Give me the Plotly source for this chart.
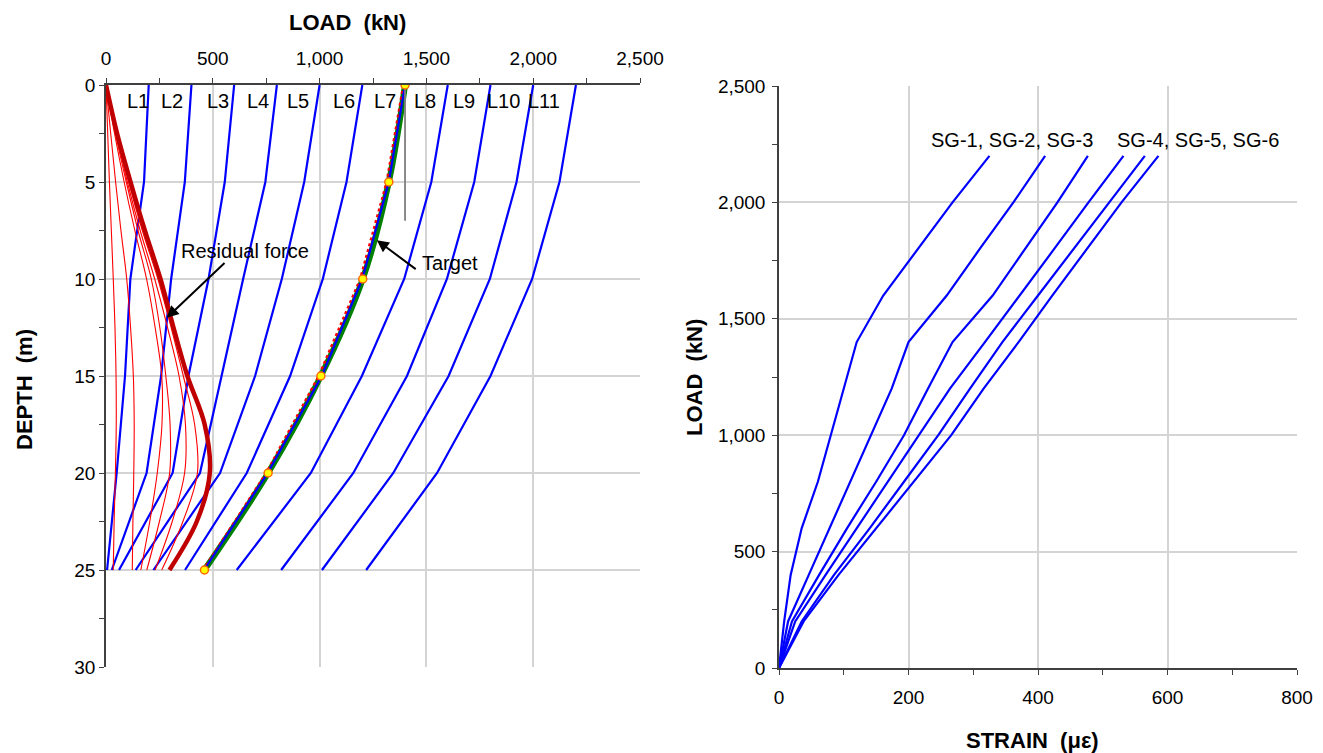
import plotly.graph_objects as go

# ---------------- data: left chart (load distribution vs depth) ----------------
depth = [0, 5, 10, 15, 20, 25]
level_names = ["L1", "L2", "L3", "L4", "L5", "L6", "L7", "L8", "L9", "L10", "L11"]
L1 = [200, 178, 114, 89, 50, 5]
L2 = [400, 369, 305, 258, 190, 27]
L3 = [600, 556, 480, 386, 312, 61]
L4 = [800, 746, 642, 542, 440, 139]
L5 = [1000, 928, 823, 698, 534, 222]
L6 = [1200, 1126, 1015, 862, 659, 370]
L7 = [1400, 1324, 1200, 1010, 757, 459]
L8 = [1600, 1523, 1396, 1198, 959, 612]
L9 = [1800, 1724, 1596, 1409, 1158, 820]
L10 = [2000, 1922, 1797, 1604, 1345, 1011]
L11 = [2200, 2123, 1995, 1800, 1550, 1218]
levels = [L1, L2, L3, L4, L5, L6, L7, L8, L9, L10, L11]

target_load = [1400, 1324, 1202, 1006, 759, 461]
fitted_load = [1392, 1314, 1190, 996, 750, 455]
ref_line_depth = [0, 7]

res_depth = [0, 2.5, 5, 7.5, 10, 12.5, 15, 17.5, 20, 22.5, 25]
R1 = [0, 8, 16, 25, 34, 42, 47, 48, 44, 38, 34]
R2 = [0, 22, 45, 70, 97, 115, 128, 132, 130, 126, 123]
R3 = [0, 40, 85, 135, 190, 230, 261, 262, 240, 205, 163]
R4 = [0, 44, 95, 150, 212, 252, 280, 300, 298, 250, 191]
R5 = [0, 47, 100, 160, 228, 288, 342, 372, 368, 310, 230]
R6 = [0, 50, 106, 170, 243, 305, 362, 415, 428, 360, 261]
residual_thin = [R1, R2, R3, R4, R5, R6]
R_final = [0, 52, 115, 182, 255, 316, 381, 462, 486, 425, 297]

# ---------------- data: right chart (load vs strain) ----------------
sg_load = [0, 200, 400, 600, 800, 1000, 1200, 1400, 1600, 1800, 2000, 2200]
SG1 = [0, 8, 18, 35, 60, 80, 100, 120, 161, 214, 268, 325]
SG2 = [0, 14, 46, 78, 111, 143, 174, 200, 259, 310, 362, 411]
SG3 = [0, 20, 62, 105, 150, 193, 230, 268, 330, 380, 430, 477]
SG4 = [0, 25, 72, 120, 168, 217, 264, 318, 372, 425, 478, 532]
SG5 = [0, 35, 85, 140, 193, 246, 295, 345, 400, 455, 510, 565]
SG6 = [0, 38, 92, 150, 208, 266, 316, 370, 422, 476, 529, 586]
sg_series = [SG1, SG2, SG3, SG4, SG5, SG6]

x_ticks_left = [0, 500, 1000, 1500, 2000, 2500]
y_ticks_left = [0, 5, 10, 15, 20, 25, 30]
x_ticks_right = [0, 200, 400, 600, 800]
y_ticks_right = [0, 500, 1000, 1500, 2000, 2500]

# ---------------- figure geometry (pixels) ----------------
W, H = 1323, 753
ML, MR, MT, MB = 106, 26, 85, 85
PW, PH = W - ML - MR, H - MT - MB
FONT = "Liberation Sans, Arial, sans-serif"
BLUE = "#0000FF"


def px(x):
    return (x - ML) / PW


def py(y):
    return (H - MB - y) / PH


fig = go.Figure()

# blue load-distribution lines (L7 drawn later, over the target curve)
for name, vals in zip(level_names, levels):
    if name == "L7":
        continue
    fig.add_trace(go.Scatter(x=vals, y=depth, mode="lines", name=name,
                             line=dict(color=BLUE, width=2.2),
                             xaxis="x", yaxis="y", showlegend=False))

# residual force curves
for vals in residual_thin:
    fig.add_trace(go.Scatter(x=vals, y=res_depth, mode="lines",
                             line=dict(color="#FF0000", width=1.1, shape="spline"),
                             xaxis="x", yaxis="y", showlegend=False))
fig.add_trace(go.Scatter(x=R_final, y=res_depth, mode="lines",
                         line=dict(color="#C00000", width=4.5, shape="spline"),
                         xaxis="x", yaxis="y", showlegend=False))

# target curve
fig.add_trace(go.Scatter(x=target_load, y=depth, mode="lines",
                         line=dict(color="#008000", width=6, shape="spline"),
                         xaxis="x", yaxis="y", showlegend=False))
fig.add_trace(go.Scatter(x=fitted_load, y=depth, mode="lines",
                         line=dict(color="#FF0000", width=2.5, dash="dot"),
                         xaxis="x", yaxis="y", showlegend=False))
fig.add_trace(go.Scatter(x=L7, y=depth, mode="lines", name="L7",
                         line=dict(color=BLUE, width=2.2),
                         xaxis="x", yaxis="y", showlegend=False))
fig.add_trace(go.Scatter(x=[target_load[0]] * 2, y=ref_line_depth, mode="lines",
                         line=dict(color="#7F7F7F", width=1.8),
                         xaxis="x", yaxis="y", showlegend=False))
fig.add_trace(go.Scatter(x=target_load, y=depth, mode="markers",
                         marker=dict(color="#FFFF00", size=8,
                                     line=dict(color="#FF6600", width=1.5)),
                         xaxis="x", yaxis="y", showlegend=False))

# strain gauge lines
for i, vals in enumerate(sg_series):
    fig.add_trace(go.Scatter(x=vals, y=sg_load, mode="lines", name=f"SG-{i+1}",
                             line=dict(color=BLUE, width=2.2),
                             xaxis="x2", yaxis="y2", showlegend=False))

axis_common = dict(
    showline=True, linecolor="#404040", linewidth=1.5,
    ticks="outside", ticklen=5, tickwidth=1.2, tickcolor="#404040",
    showgrid=True, gridcolor="#D4D4D4", gridwidth=1.5,
    zeroline=False, automargin=False,
    tickfont=dict(family=FONT, size=19, color="#000000"),
    tickformat=",",
)

fig.update_layout(
    width=W, height=H,
    margin=dict(l=ML, r=MR, t=MT, b=MB, autoexpand=False),
    paper_bgcolor="white", plot_bgcolor="white",
    font=dict(family=FONT, color="#000000"),
    showlegend=False,
    xaxis=dict(axis_common, domain=[px(106), px(640)], range=[0, 2500],
               side="top", anchor="y", tickvals=x_ticks_left, ticklabelstandoff=6,
               minor=dict(dtick=250, ticks="outside", ticklen=5, tickcolor="#404040",
                          showgrid=False)),
    yaxis=dict(axis_common, domain=[py(667), py(85)], range=[30, 0],
               anchor="x", tickvals=y_ticks_left, ticklabelstandoff=0,
               minor=dict(dtick=2.5, ticks="outside", ticklen=5, tickcolor="#404040",
                          showgrid=False)),
    xaxis2=dict(axis_common, domain=[px(779), px(1297)], range=[0, 800],
                anchor="y2", tickvals=x_ticks_right, ticklabelstandoff=6,
                minor=dict(dtick=100, ticks="outside", ticklen=5, tickcolor="#404040",
                           showgrid=False)),
    yaxis2=dict(axis_common, domain=[py(668), py(86)], range=[0, 2500],
                anchor="x2", tickvals=y_ticks_right, ticklabelstandoff=3,
                minor=dict(dtick=250, ticks="outside", ticklen=5, tickcolor="#404040",
                           showgrid=False)),
)

ann = []
title_font = dict(family=FONT, size=22, color="#000000")
centered = dict(xref="paper", yref="paper", showarrow=False, font=title_font,
                xanchor="center", yanchor="middle")
ann.append(dict(centered, text="<b>LOAD  (kN)</b>", x=px(347), y=py(23)))
ann.append(dict(centered, text="<b>DEPTH  (m)</b>", x=px(24), y=py(390), textangle=-90))
ann.append(dict(centered, text="<b>LOAD  (kN)</b>", x=px(694), y=py(378), textangle=-90))
ann.append(dict(centered, text="<b>STRAIN  (με)</b>", x=px(1032), y=py(740)))

label_font = dict(family=FONT, size=20, color="#000000")
label_x = [148, 307, 525, 710, 900, 1112, 1305, 1493, 1678, 1859, 2052]
for name, lx in zip(level_names, label_x):
    ann.append(dict(text=name, x=lx, y=0.8, xref="x", yref="y",
                    showarrow=False, font=label_font))

# residual force arrow and label
ann.append(dict(text="", x=284, y=12.0, xref="x", yref="y",
                ax=562, ay=9.1, axref="x", ayref="y",
                showarrow=True, arrowhead=2, arrowsize=1.2, arrowwidth=2,
                arrowcolor="#000000"))
ann.append(dict(text="Residual force", x=651, y=8.56, xref="x", yref="y",
                showarrow=False, font=label_font))
# target arrow and label
ann.append(dict(text="", x=1268, y=8.0, xref="x", yref="y",
                ax=1457, ay=9.55, axref="x", ayref="y",
                showarrow=True, arrowhead=2, arrowsize=1.2, arrowwidth=2,
                arrowcolor="#000000"))
ann.append(dict(text="Target", x=1610, y=9.2, xref="x", yref="y",
                showarrow=False, font=label_font))

ann.append(dict(text="SG-1, SG-2, SG-3", x=360, y=2268, xref="x2", yref="y2",
                showarrow=False, font=label_font))
ann.append(dict(text="SG-4, SG-5, SG-6", x=647, y=2268, xref="x2", yref="y2",
                showarrow=False, font=label_font))

fig.update_layout(annotations=ann)

fig.write_html("out.html")
